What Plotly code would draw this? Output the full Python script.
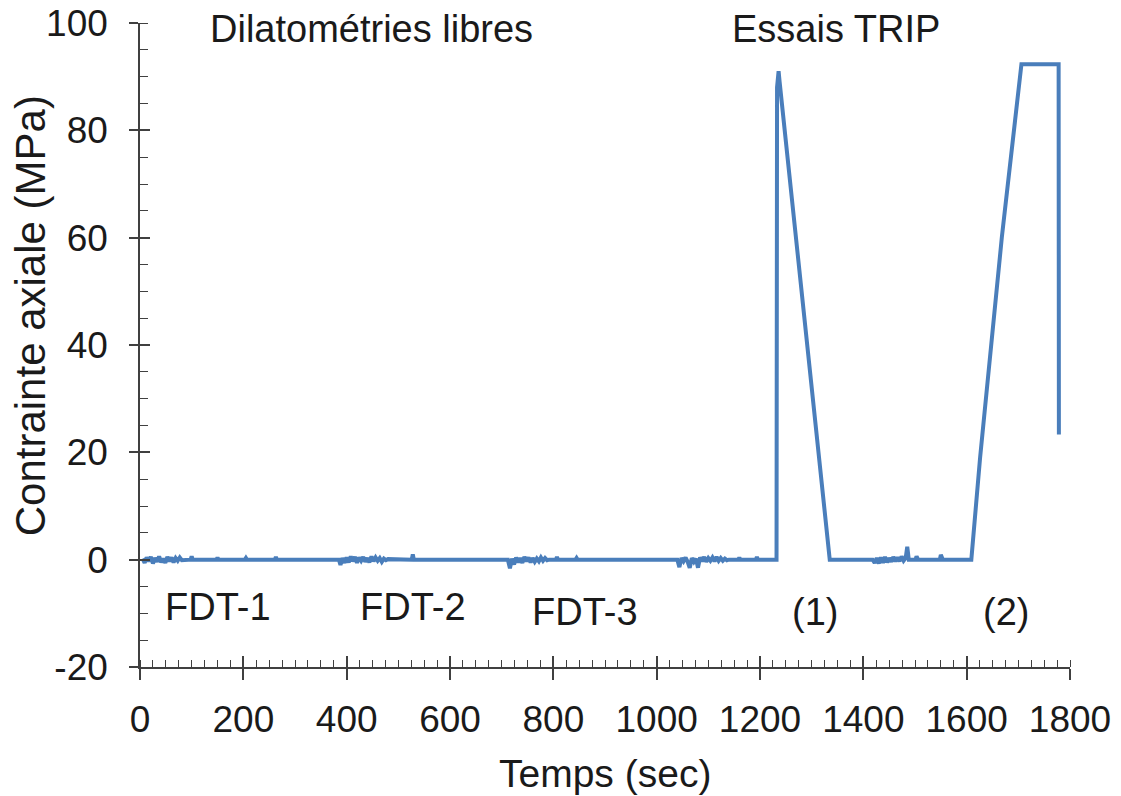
"""
Contrainte axiale vs temps : dilatométries libres puis essais TRIP.
"""

import plotly.graph_objects as go

BLUE = "#4A7EBB"
AXIS = "#404040"
FONT = "Liberation Sans, Arial, sans-serif"

# dilatométrie FDT-1 (bruit autour de zéro)
fdt1_t = [5, 9, 13, 17, 21, 25, 29, 33, 37, 41, 45, 49, 53, 57, 61, 65, 69, 73, 77, 81,
          98, 100, 102, 148, 150, 152, 203, 205, 207, 261, 263, 265, 300, 340, 385]
fdt1_s = [0.2, -0.6, 0.4, -0.3, 0.5, -0.7, 0.3, -0.4, 0.6, -0.5, 0.2, -0.6, 0.5, -0.3, 0.4, -0.5, 0.3, -0.2, 0.4, -0.1,
          0.0, 0.6, 0.0, 0.0, 0.4, 0.0, 0.0, 0.3, 0.0, 0.0, 0.5, 0.0, 0.0, 0.0, 0.0]

# FDT-2
fdt2_t = [388, 392, 396, 400, 404, 408, 412, 416, 420, 424, 428, 432, 436, 440, 444, 448, 452, 456, 460, 464,
          468, 472, 476, 480, 526, 528, 530, 560, 600, 650, 708]
fdt2_s = [-1.0, 0.3, -0.6, 0.4, -0.5, 0.6, -0.3, 0.5, -0.6, 0.4, -0.2, 0.5, -0.4, 0.3, -0.5, 0.6, -0.3, 0.4, -0.2, 0.3,
          -0.4, 0.2, -0.1, 0.1, 0.0, 1.0, 0.0, 0.0, 0.0, 0.0, 0.0]

# FDT-3
fdt3_t = [712, 716, 720, 724, 728, 732, 736, 740, 744, 748, 752, 756, 760, 764, 768, 772, 776, 780, 784, 788,
          792, 805, 807, 809, 843, 845, 847, 900, 950, 1000, 1036]
fdt3_s = [0.0, -1.6, 0.2, -0.9, 0.4, -0.5, 0.3, -0.6, 0.5, -0.3, 0.4, -0.5, 0.3, -0.4, 0.2, -0.3, 0.4, -0.2, 0.3, -0.1,
          0.0, 0.0, 0.5, 0.0, 0.0, 0.3, 0.0, 0.0, 0.0, 0.0, 0.0]

# fin des dilatométries, juste avant l'essai TRIP (1)
fdt4_t = [1040, 1044, 1048, 1052, 1056, 1060, 1064, 1068, 1072, 1076, 1080, 1084, 1088, 1092, 1096, 1100, 1104,
          1108, 1112, 1116, 1120, 1124, 1128, 1132, 1136, 1140, 1158, 1160, 1162, 1192, 1194, 1196, 1232]
fdt4_s = [0.0, -1.4, 0.3, -0.3, 0.4, -0.4, -1.5, 0.3, -0.4, 0.2, -1.5, 0.4, -0.3, 0.5, -0.4, 0.3, -0.2,
          0.4, -0.3, 0.5, -0.2, 0.3, -0.2, 0.2, -0.1, 0.0, 0.0, 0.4, 0.0, 0.0, 0.5, 0.0, 0.0]

# essai TRIP (1) : chargement brusque puis décharge linéaire
trip1_t = [1233, 1234, 1236, 1238, 1250, 1270, 1290, 1310, 1335, 1380, 1414]
trip1_s = [88.0, 90.0, 91.0, 89.0, 78.0, 60.0, 42.0, 23.0, 0.0, 0.0, 0.0]

# bruit entre les deux essais
mid_t = [1418, 1422, 1426, 1430, 1434, 1438, 1442, 1446, 1450, 1454, 1458, 1462, 1466, 1470, 1474, 1478,
         1482, 1485, 1488, 1501, 1503, 1506, 1520, 1548, 1550, 1554, 1608]
mid_s = [0.0, -0.6, 0.3, -0.7, 0.4, -0.6, 0.5, -0.5, 0.3, -0.4, 0.5, -0.3, 0.4, -0.3, 0.6, -0.2,
         0.3, 2.4, 0.0, 0.0, 0.6, 0.0, 0.0, 0.0, 0.9, 0.0, 0.0]

# essai TRIP (2) : rampe, palier puis décharge
trip2_t = [1609, 1626, 1668, 1706, 1778, 1778.5]
trip2_s = [0.0, 19.0, 60.0, 92.3, 92.3, 23.3]

t = fdt1_t + fdt2_t + fdt3_t + fdt4_t + trip1_t + mid_t + trip2_t
s = fdt1_s + fdt2_s + fdt3_s + fdt4_s + trip1_s + mid_s + trip2_s

y_ticks = [-20, 0, 20, 40, 60, 80, 100]
y_tick_text = ["-20", "0", "20", "40", "60", "80", "100"]

labels = [
    ("Dilatométries libres", 449, 98.8),
    ("Essais TRIP", 1347, 98.8),
    ("FDT-1", 151, -8.8),
    ("FDT-2", 528, -8.8),
    ("FDT-3", 861, -9.7),
    ("(1)", 1306, -9.7),
    ("(2)", 1676, -9.7),
]

fig = go.Figure()
fig.add_trace(go.Scatter(x=t, y=s, mode="lines",
                         line=dict(color=BLUE, width=4), showlegend=False))
# trace vide pour faire exister les axes superposés (graduations vers l'intérieur)
fig.add_trace(go.Scatter(x=[None], y=[None], xaxis="x2", yaxis="y2",
                         showlegend=False, hoverinfo="skip"))

for text, x, y in labels:
    fig.add_annotation(x=x, y=y, text=text, showarrow=False,
                       font=dict(family=FONT, size=38, color="#1a1a1a"))

fig.add_annotation(xref="paper", yref="paper", x=0.5, y=-0.165, text="Temps (sec)",
                   xanchor="center", yanchor="middle", showarrow=False,
                   font=dict(family=FONT, size=39, color="#1a1a1a"))
fig.add_annotation(xref="paper", yref="paper", x=-0.118, y=0.545, text="Contrainte axiale (MPa)",
                   xanchor="center", yanchor="middle", textangle=-90, showarrow=False,
                   font=dict(family=FONT, size=42, color="#1a1a1a"))

common = dict(showgrid=False, zeroline=False, linecolor=AXIS, tickcolor=AXIS,
              tickwidth=1.5, automargin=False, ticklabeloverflow="allow")

# la page html ajoute 8 px de marge autour de la figure : on compense ici
fig.update_layout(
    width=1113, height=788,
    margin=dict(l=132, r=51, t=15, b=129),
    plot_bgcolor="white", paper_bgcolor="white",
    font=dict(family=FONT, size=37, color="#1a1a1a"),
    xaxis=dict(range=[0, 1800], dtick=200, ticks="outside", ticklen=11,
               showline=True, linewidth=1.5, ticklabelstandoff=8,
               minor=dict(dtick=25, ticks="inside", ticklen=7, tickcolor=AXIS, tickwidth=1.2),
               **common),
    yaxis=dict(range=[-20, 100], tickvals=y_ticks, ticktext=y_tick_text,
               ticks="outside", ticklen=9,
               showline=True, linewidth=1.5, ticklabelstandoff=14,
               minor=dict(dtick=5, ticks="inside", ticklen=8, tickcolor=AXIS, tickwidth=1.2),
               **common),
    xaxis2=dict(range=[0, 1800], dtick=200, ticks="inside", ticklen=11, overlaying="x",
                anchor="y2", showticklabels=False, showline=False, **common),
    yaxis2=dict(range=[-20, 100], dtick=20, ticks="inside", ticklen=10, overlaying="y",
                anchor="x2", showticklabels=False, showline=False, **common),
)

fig.write_html("out.html")
